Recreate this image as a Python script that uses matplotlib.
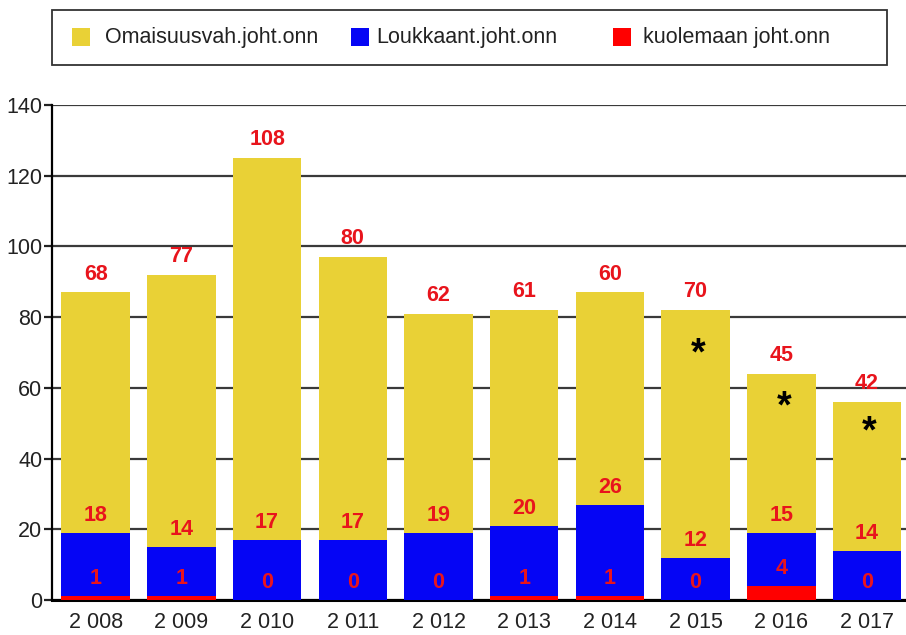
import numpy as np
import matplotlib
matplotlib.use("Agg")
import matplotlib.pyplot as plt
from matplotlib.patches import Rectangle

# data
years = ["2 008", "2 009", "2 010", "2 011", "2 012", "2 013", "2 014", "2 015", "2 016", "2 017"]
kuolema = [1, 1, 0, 0, 0, 1, 1, 0, 4, 0]
loukkaant = [18, 14, 17, 17, 19, 20, 26, 12, 15, 14]
omaisuus = [68, 77, 108, 80, 62, 61, 60, 70, 45, 42]
star_years = [7, 8, 9]
star_y = [69.5, 54.5, 47.5]

series_names = ["Omaisuusvah.joht.onn", "Loukkaant.joht.onn", "kuolemaan joht.onn"]
c_yellow = "#E9D136"
c_blue = "#0505F5"
c_red = "#FF0000"
c_label = "#E8141C"

plt.rcParams["font.family"] = ["Liberation Sans", "DejaVu Sans"]

fig = plt.figure(figsize=(9.06, 6.35), dpi=100)
ax = fig.add_axes([52 / 906, 35 / 635, 1 - 52 / 906, (600 - 105) / 635])

x = np.arange(len(years))
red = np.array(kuolema)
blue = np.array(loukkaant)
yel = np.array(omaisuus)

ax.bar(x, red, 0.8, color=c_red, zorder=3)
ax.bar(x, blue, 0.8, bottom=red, color=c_blue, zorder=3)
ax.bar(x, yel, 0.8, bottom=red + blue, color=c_yellow, zorder=3)

lab = dict(ha="center", va="center", color=c_label, fontsize=15.5, fontweight="bold", zorder=4)
for i in x:
    ax.text(i, red[i] + 5, str(red[i]), **lab)
    ax.text(i, red[i] + blue[i] + 4.8, str(blue[i]), **lab)
    ax.text(i, red[i] + blue[i] + yel[i] + 5.2, str(yel[i]), **lab)

for i, yv in zip(star_years, star_y):
    ax.text(i + 0.03, yv, "*", ha="center", va="center", fontsize=27, fontweight="bold",
            color="black", zorder=4)

ax.set_xlim(-0.51, 9.455)
ax.set_ylim(0, 140)
ax.set_yticks(range(0, 141, 20))
ax.set_xticks(x)
ax.set_xticklabels(years)
ax.yaxis.grid(True, color="#3a3a3a", linewidth=1.6, zorder=0)
ax.set_axisbelow(True)
for s in ["top", "right"]:
    ax.spines[s].set_visible(False)
ax.spines["left"].set_linewidth(1.6)
ax.spines["bottom"].set_linewidth(2.2)
ax.tick_params(axis="y", length=6, width=1.6, pad=1, labelsize=15.5, colors="#222222")
ax.tick_params(axis="x", length=0, pad=9, labelsize=15.5, colors="#222222")

# legend box drawn by hand to match spacing
W, H = 906, 635
fig.patches.append(Rectangle((52 / W, 1 - 65 / H), (887 - 52) / W, 55 / H, transform=fig.transFigure,
                             fill=False, edgecolor="#333333", linewidth=1.3))
for sx, tx, col, name in zip([72, 351, 613], [105, 376, 643], [c_yellow, c_blue, c_red], series_names):
    fig.patches.append(Rectangle((sx / W, 1 - 46 / H), 18 / W, 18 / H, transform=fig.transFigure,
                                 facecolor=col, edgecolor="none"))
    fig.text(tx / W, 1 - 37 / H, name, ha="left", va="center", fontsize=15.5, color="#222222")

fig.savefig("out.png", dpi=100)
